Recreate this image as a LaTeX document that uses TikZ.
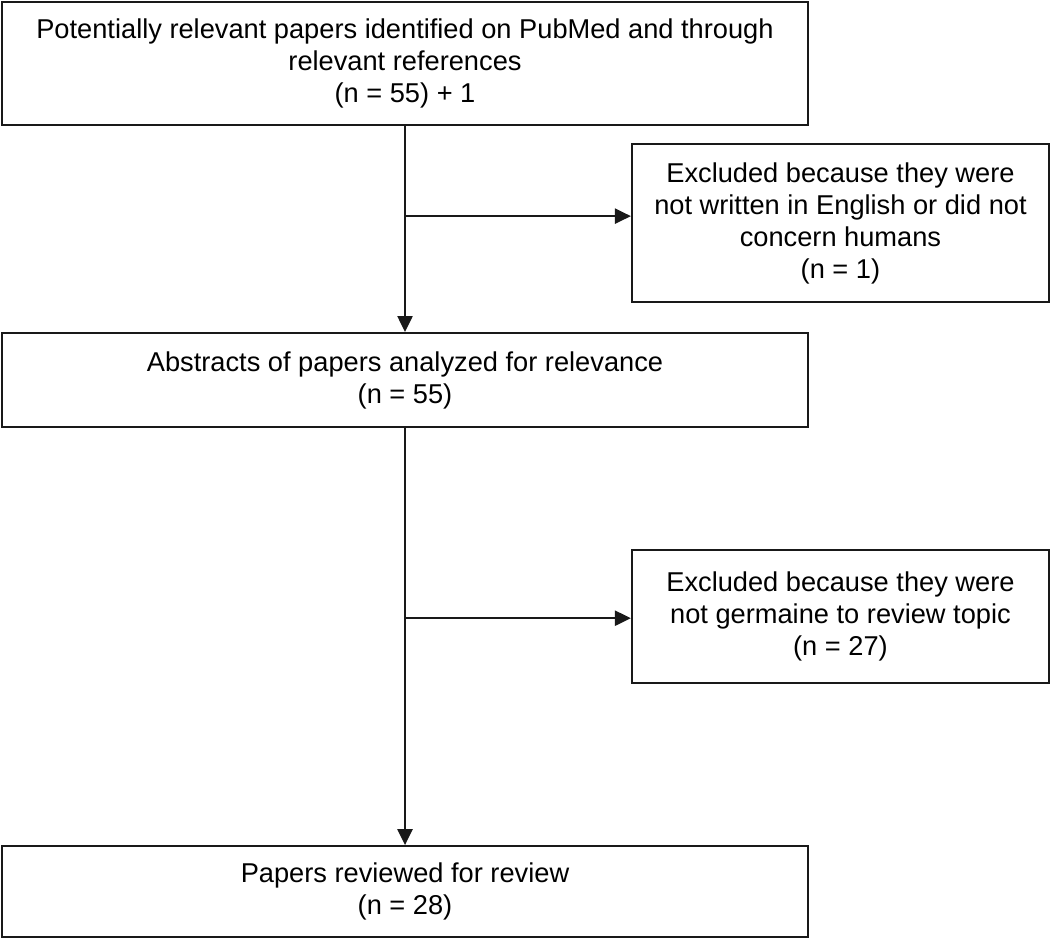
\documentclass[tikz,border=0pt]{standalone}
\usepackage{fontspec}
\setmainfont{Liberation Sans}
\usepackage{xcolor}
\usepackage{tikz}
\definecolor{boxline}{RGB}{25, 25, 25}
\usetikzlibrary{arrows.meta, positioning}

\begin{document}
\begin{tikzpicture}[
    mainbox/.style={rectangle, draw=boxline, line width=1.2pt, fill=white,
                    minimum width=16.12cm, align=center,
                    font=\fontsize{15.5}{18.2}\selectfont},
    sidebox/.style={rectangle, draw=boxline, line width=1.2pt, fill=white,
                    minimum width=8.34cm, align=center, anchor=north west,
                    font=\fontsize{15.5}{18.2}\selectfont},
    flow/.style={-{Triangle[length=0.32cm, width=0.3cm]}, line width=1.3pt, boxline}
]
    % Main column
    \node[mainbox, minimum height=2.46cm] (p1) {Potentially relevant papers identified on PubMed and through\\relevant references\\(n = 55) + 1};
    \node[mainbox, minimum height=1.88cm, below=4.12cm of p1] (p2) {Abstracts of papers analyzed for relevance\\(n = 55)};
    \node[mainbox, minimum height=1.82cm, below=8.34cm of p2] (p3) {Papers reviewed for review\\(n = 28)};

    % Exclusions
    \node[sidebox, minimum height=3.16cm] (e1) at ([xshift=12.6cm, yshift=-0.34cm]p1.south west) {Excluded because they were\\not written in English or did not\\concern humans\\(n = 1)};
    \node[sidebox, minimum height=2.66cm] (e2) at ([xshift=12.6cm, yshift=-2.42cm]p2.south west) {Excluded because they were\\not germaine to review topic\\(n = 27)};

    % Branch points
    \coordinate (j1) at ([yshift=0.14cm]p1.south |- e1.west);
    \coordinate (j2) at ([yshift=-0.03cm]p2.south |- e2.west);

    % Arrows
    \draw[flow] (p1) -- (p2);
    \draw[flow] (p2) -- (p3);
    \draw[flow] (j1) -- (j1 -| e1.west);
    \draw[flow] (j2) -- (j2 -| e2.west);

    \useasboundingbox ([xshift=-0.02cm, yshift=0.02cm]p1.north west) rectangle ++(21cm,-18.7cm);
\end{tikzpicture}
\end{document}
